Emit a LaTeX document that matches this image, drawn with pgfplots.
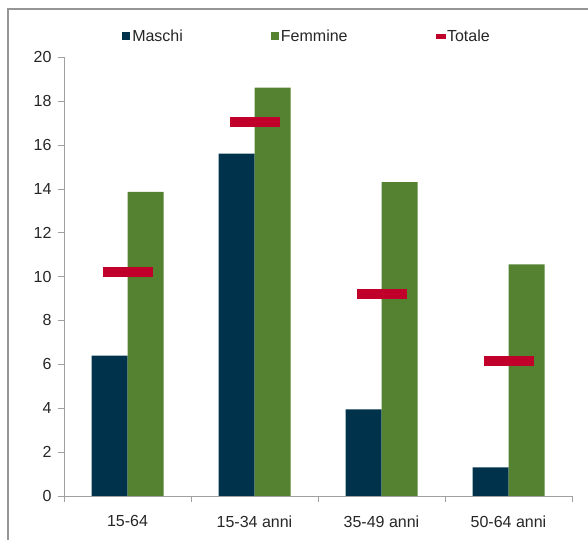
\documentclass[border=0pt]{standalone}
\usepackage{fontspec}
\setmainfont{Liberation Sans}
\usepackage{pgfplots}
\pgfplotsset{compat=1.18}

\definecolor{maschi}{RGB}{0,50,75}
\definecolor{femmine}{RGB}{84,130,48}
\definecolor{totale}{RGB}{192,0,42}
\definecolor{axisgray}{RGB}{160,160,160}
\definecolor{framegray}{RGB}{150,150,150}

\begin{document}
\begin{tikzpicture}
\path[use as bounding box] (0,0) rectangle (588pt,540pt);
\draw[framegray, line width=1.5pt] (8pt,0) -- (8pt,531pt) -- (588pt,531pt);
\begin{axis}[
    at={(64pt,44pt)}, anchor=south west,
    scale only axis,
    width=508pt, height=439pt,
    xmin=-0.5, xmax=3.5,
    ymin=0, ymax=20,
    ytick={0,2,...,20},
    xtick={0,1,2,3},
    xticklabels={15-64, 15-34 anni, 35-49 anni, 50-64 anni},
    minor xtick={-0.5,0.5,1.5,2.5,3.5},
    axis x line=bottom, axis y line=left,
    axis line style={axisgray, -},
    tick align=outside,
    major tick length=6pt, minor tick length=6pt,
    major x tick style={draw=none},
    minor x tick style={axisgray},
    ytick style={axisgray},
    tick label style={font=\fontsize{16}{19}\selectfont, text=black!85},
    xticklabel style={yshift=-10pt},
    yticklabel style={xshift=-3pt},
    /pgf/number format/assume math mode=true,
    legend style={at={(0.5,1.0)}, anchor=south, xshift=-11pt, yshift=10pt, draw=none,
        font=\fontsize{16}{19}\selectfont, text=black!85,
        legend columns=3,
        /tikz/every even column/.append style={column sep=86pt}},
    legend cell align=left,
]
\addplot[ybar, bar width=36pt, bar shift=-18pt, fill=maschi, draw=none,
    legend image code/.code={\fill[maschi] (0pt,-4pt) rectangle (8pt,4pt);}]
    coordinates {(0,6.4) (1,15.6) (2,3.95) (3,1.3)};
\addlegendentry{Maschi}
\addplot[ybar, bar width=36pt, bar shift=18pt, fill=femmine, draw=none,
    legend image code/.code={\fill[femmine] (0pt,-4pt) rectangle (8pt,4pt);}]
    coordinates {(0,13.85) (1,18.6) (2,14.3) (3,10.55)};
\addlegendentry{Femmine}
\addplot[only marks, mark=-, mark size=25pt,
    mark options={totale, line width=10pt, line cap=butt},
    legend image code/.code={\fill[totale] (0pt,-1.6pt) rectangle (9pt,1.6pt);}]
    coordinates {(0,10.2) (1,17.05) (2,9.2) (3,6.15)};
\addlegendentry{Totale}
\end{axis}
\end{tikzpicture}
\end{document}
